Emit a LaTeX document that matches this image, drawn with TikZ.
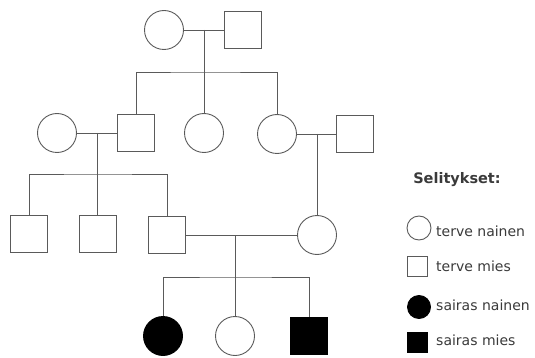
\documentclass[tikz,border=0pt]{standalone}
\usepackage{fontspec}
\setmainfont{DejaVu Sans}
\definecolor{viiva}{HTML}{5A5A5A}
\definecolor{teksti}{HTML}{3A3A3A}
\begin{document}
\begin{tikzpicture}[x=1pt, y=-1pt,
		nainen/.style={circle, draw=viiva, line width=0.9pt, minimum size=39pt, inner sep=0pt},
		mies/.style={rectangle, draw=viiva, line width=0.9pt, minimum size=37pt, inner sep=0pt},
		sairas/.style={fill=black, draw=black},
		selite/.style={anchor=west, inner sep=0pt, text=teksti, font=\fontsize{14}{16}\selectfont},
		suku/.style={draw=viiva, line width=0.9pt}]
		\useasboundingbox (0, 0) rectangle (535, 358);
		% sukupolvi 1
		\node[nainen] (f1) at (164, 30) {};
		\node[mies] (m1) at (243, 30) {};
		% sukupolvi 2
		\node[nainen] (f2) at (57, 133) {};
		\node[mies] (m2) at (136, 133) {};
		\node[nainen] (f3) at (204, 133) {};
		\node[nainen] (f4) at (277, 134) {};
		\node[mies] (m3) at (355, 134) {};
		% sukupolvi 3
		\node[mies] (m4) at (29, 234) {};
		\node[mies] (m5) at (97.5, 234) {};
		\node[mies] (m6) at (167, 235) {};
		\node[nainen] (f5) at (317, 235) {};
		% sukupolvi 4
		\node[nainen, sairas] (f6) at (163, 336) {};
		\node[nainen] (f7) at (235, 336) {};
		\node[mies, sairas] (m7) at (309, 336) {};
		% liitot ja lapset
		\coordinate (u1) at (204, 30);
		\coordinate (s1) at (204, 72);
		\path[suku] (f1) -- (m1);
		\path[suku] (u1) -- (s1);
		\path[suku] (m2.north) |- (s1) -| (f4.north);
		\path[suku] (s1) -- (f3.north);
		\coordinate (u2) at (97.5, 133);
		\coordinate (s2) at (97.5, 174);
		\path[suku] (f2) -- (m2);
		\path[suku] (u2) -- (s2);
		\path[suku] (m4.north) |- (s2) -| (m6.north);
		\path[suku] (s2) -- (m5.north);
		\coordinate (u3) at (317, 134);
		\path[suku] (f4) -- (m3);
		\path[suku] (u3) -- (f5.north);
		\coordinate (u4) at (235, 235);
		\coordinate (s4) at (235, 277);
		\path[suku] (m6) -- (f5);
		\path[suku] (u4) -- (s4);
		\path[suku] (f6.north) |- (s4) -| (m7.north);
		\path[suku] (s4) -- (f7.north);
		% selitykset
		\node[anchor=center, text=teksti, font=\bfseries\fontsize{14.5}{17}\selectfont] (otsikko) at (457, 180) {Selitykset:};
		\node[nainen, minimum size=24pt] (lf1) at (419, 228) {};
		\node[selite] (lt1) at (436, 231) {terve nainen};
		\node[mies, minimum size=20pt] (lm1) at (417, 266) {};
		\node[selite] (lt2) at (436, 266) {terve mies};
		\node[nainen, sairas, minimum size=23pt] (lf2) at (419, 307) {};
		\node[selite] (lt3) at (436, 305) {sairas nainen};
		\node[mies, sairas, minimum size=20pt] (lm2) at (417, 342) {};
		\node[selite] (lt4) at (436, 340) {sairas mies};
	\end{tikzpicture}
\end{document}
